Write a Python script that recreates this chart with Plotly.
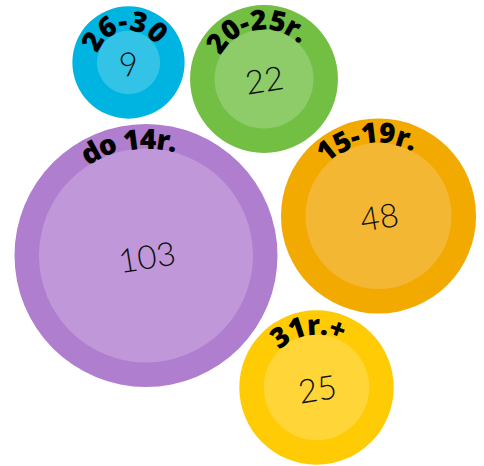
import math
import plotly.graph_objects as go

# ---- data ----
labels = ["26-30", "20-25r.", "do 14r.", "15-19r.", "31r.+"]
values = [9, 22, 103, 48, 25]

# ---- layout / style (not data) ----
centers_x = [128.5, 264, 146, 378.5, 316.5]
centers_y = [62.5, 79, 255.5, 216, 387.5]
outer_colors = ["#00B4E1", "#72BF44", "#B07ECF", "#F2A900", "#FFCB05"]
inner_colors = ["#33C3E7", "#8DCC69", "#C098D9", "#F4B733", "#FFD537"]

W, H = 484, 466
K = 107 / math.sqrt(103)   # sqrt (area) scale for inner circles
RING = 24.5
LABEL_FS = 28
NUM_FS = 33
ROT = -9  # degrees

char_w = {"0": .572, "1": .572, "2": .572, "3": .572, "4": .572, "5": .572,
          "6": .572, "7": .572, "8": .572, "9": .572, "d": .617, "o": .602,
          "r": .434, ".": .285, "-": .322, "+": .5, " ": .2}

fig = go.Figure()
fig.add_trace(go.Scatter(x=centers_x, y=centers_y, mode="markers",
                         marker=dict(opacity=0), hoverinfo="skip"))

shapes = []
annotations = []
for lab, v, cx, cy, oc, ic in zip(labels, values, centers_x, centers_y,
                                  outer_colors, inner_colors):
    ri = K * math.sqrt(v)
    ro = ri + RING
    shapes.append(dict(type="circle", xref="x", yref="y",
                       x0=cx - ro, x1=cx + ro, y0=cy - ro, y1=cy + ro,
                       fillcolor=oc, line=dict(width=0), layer="below"))
    shapes.append(dict(type="circle", xref="x", yref="y",
                       x0=cx - ri, x1=cx + ri, y0=cy - ri, y1=cy + ri,
                       fillcolor=ic, line=dict(width=0), layer="below"))
    annotations.append(dict(x=cx, y=cy, xref="x", yref="y", text=str(v),
                            showarrow=False, textangle=ROT,
                            font=dict(family="Lato", size=NUM_FS, weight=300,
                                      color="#111")))
    # curved label along the top of the ring
    rb = ri + 1.5
    rc = rb + 0.34 * LABEL_FS
    widths = [char_w.get(c, .57) * LABEL_FS for c in lab]
    total = sum(widths)
    start = math.radians(ROT + 0.5) - (total / 2) / ri
    cum = 0
    for c, w in zip(lab, widths):
        th = start + (cum + w / 2) / ri
        cum += w
        if c == " ":
            continue
        x = cx + rc * math.sin(th)
        y = cy - rc * math.cos(th)
        annotations.append(dict(x=x, y=y, xref="x", yref="y", text=c,
                                showarrow=False, textangle=math.degrees(th),
                                xanchor="center", yanchor="middle",
                                font=dict(family="Open Sans", size=LABEL_FS,
                                          weight=800, color="#000")))

fig.update_layout(width=W, height=H, margin=dict(l=0, r=0, t=0, b=0),
                  paper_bgcolor="white", plot_bgcolor="white",
                  showlegend=False, hovermode=False,
                  xaxis=dict(visible=False, range=[0, W], fixedrange=True),
                  yaxis=dict(visible=False, range=[H, 0], fixedrange=True),
                  shapes=shapes, annotations=annotations)

fig.write_html("out.html", config={"displayModeBar": False},
               post_script="document.body.style.margin='0';"
                           "document.body.style.overflow='hidden';")
